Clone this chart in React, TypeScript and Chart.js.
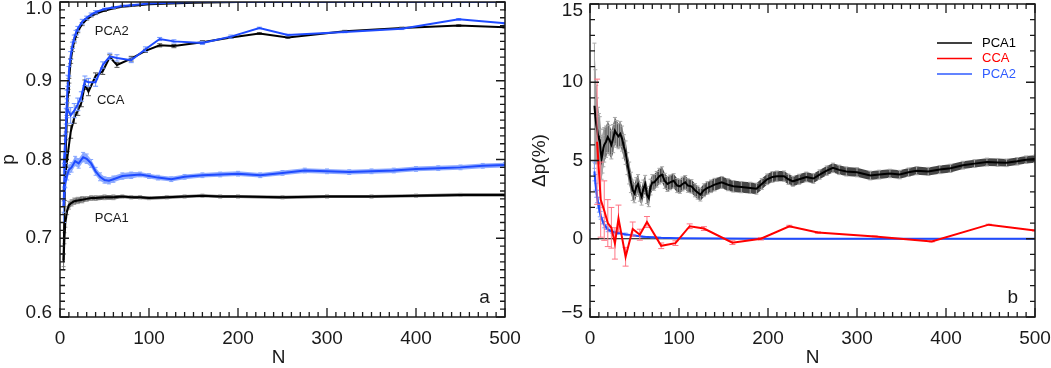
import React, { useEffect, useRef } from 'react';
import { Chart, registerables } from 'chart.js';

Chart.register(...registerables);

const FONT = "'Liberation Sans', Arial, Helvetica, sans-serif";
const TXT = '#1a1a1a';
const BLUE = '#1f4bff';
const RED = '#ff0000';

// ---------- Panel a : p versus N ----------
const pca2N = [4, 5, 6, 7, 8, 9, 10, 12, 14, 16, 18, 20, 25, 30, 35, 40, 50, 60, 70, 80, 100, 125, 150, 200, 300, 400, 500];
const pca2BlackV = [0.67, 0.74, 0.79, 0.83, 0.86, 0.885, 0.90, 0.925, 0.94, 0.95, 0.957, 0.963, 0.972, 0.978, 0.982, 0.985, 0.989, 0.992, 0.994, 0.995, 0.997, 0.998, 0.999, 1.0, 1.0, 1.0, 1.0];
const pca2BlackE = [0.01, 0.008, 0.006, 0.005, 0.004, 0.004, 0.003, 0.003, 0.003, 0.002, 0.002, 0.002, 0.002, 0.001, 0.001, 0.001, 0.001, 0.001, 0, 0, 0, 0, 0, 0, 0, 0, 0];
const pca2BlueV = [0.74, 0.78, 0.82, 0.855, 0.88, 0.90, 0.912, 0.932, 0.945, 0.954, 0.961, 0.966, 0.975, 0.98, 0.984, 0.987, 0.991, 0.993, 0.995, 0.996, 0.998, 0.999, 1.0, 1.0, 1.0, 1.0, 1.0];
const pca2BlueE = [0.02, 0.015, 0.012, 0.01, 0.008, 0.007, 0.006, 0.005, 0.004, 0.004, 0.003, 0.003, 0.003, 0.002, 0.002, 0.002, 0.001, 0.001, 0.001, 0.001, 0, 0, 0, 0, 0, 0, 0];

const ccaN = [4, 8, 12, 16, 20, 24, 28, 32, 40, 48, 56, 64, 80, 96, 112, 128, 160, 192, 224, 256, 320, 384, 448, 500];
const ccaBlackV = [0.76, 0.80, 0.835, 0.853, 0.862, 0.872, 0.895, 0.886, 0.906, 0.912, 0.930, 0.920, 0.928, 0.938, 0.945, 0.944, 0.949, 0.955, 0.960, 0.955, 0.963, 0.967, 0.970, 0.968];
const ccaBlackE = [0.01, 0.01, 0.008, 0.007, 0.006, 0.005, 0.006, 0.005, 0.004, 0.004, 0.003, 0.003, 0.003, 0.002, 0.002, 0.002, 0.002, 0.001, 0.001, 0.001, 0.001, 0.001, 0.001, 0.001];
const ccaBlueV = [0.79, 0.865, 0.856, 0.862, 0.870, 0.880, 0.900, 0.898, 0.898, 0.920, 0.931, 0.929, 0.926, 0.940, 0.953, 0.950, 0.948, 0.956, 0.967, 0.958, 0.962, 0.966, 0.978, 0.973];
const ccaBlueE = [0.01, 0.012, 0.01, 0.009, 0.008, 0.006, 0.006, 0.005, 0.005, 0.004, 0.004, 0.004, 0.003, 0.003, 0.002, 0.002, 0.002, 0.002, 0.001, 0.001, 0.001, 0.001, 0.001, 0.001];

const pca1BlackN = [4, 5, 6, 8, 10, 13, 16, 20, 25, 30, 35, 40, 50, 60, 70, 80, 90, 100, 120, 140, 160, 180, 200, 250, 300, 350, 400, 450, 500];
const pca1BlackV = [0.672, 0.70, 0.72, 0.735, 0.742, 0.745, 0.747, 0.748, 0.749, 0.75, 0.751, 0.751, 0.752, 0.752, 0.753, 0.752, 0.752, 0.751, 0.752, 0.753, 0.754, 0.753, 0.753, 0.752, 0.753, 0.753, 0.754, 0.755, 0.755];
const pca1BlackE = [0.008, 0.007, 0.006, 0.005, 0.005, 0.004, 0.004, 0.004, 0.004, 0.003, 0.003, 0.003, 0.003, 0.003, 0.002, 0.002, 0.002, 0.002, 0.002, 0.002, 0.002, 0.002, 0.002, 0.002, 0.002, 0.002, 0.002, 0.002, 0.002];

const pca1BlueN = [4, 6, 8, 10, 13, 17, 21, 26, 30, 35, 40, 45, 50, 55, 60, 70, 80, 90, 100, 110, 125, 140, 160, 180, 200, 225, 250, 275, 300, 325, 350, 375, 400, 425, 450, 475, 500];
const pca1BlueV = [0.74, 0.77, 0.78, 0.787, 0.79, 0.798, 0.795, 0.803, 0.801, 0.795, 0.785, 0.778, 0.774, 0.773, 0.775, 0.779, 0.780, 0.781, 0.779, 0.777, 0.775, 0.778, 0.780, 0.781, 0.782, 0.780, 0.783, 0.786, 0.785, 0.784, 0.785, 0.786, 0.788, 0.789, 0.790, 0.792, 0.793];
const pca1BlueE = [0.007, 0.006, 0.006, 0.006, 0.006, 0.006, 0.006, 0.006, 0.006, 0.005, 0.005, 0.005, 0.004, 0.004, 0.004, 0.004, 0.004, 0.003, 0.003, 0.003, 0.003, 0.003, 0.003, 0.003, 0.003, 0.003, 0.003, 0.003, 0.003, 0.003, 0.003, 0.003, 0.003, 0.003, 0.003, 0.003, 0.003];

// ---------- Panel b : delta p (%) versus N ----------
const dPca1N = [5, 6, 7, 8, 9, 10, 11, 12, 13, 14,
  15, 16, 18, 20, 22, 24, 26, 28, 30, 32,
  34, 36, 38, 40, 42, 44, 46, 48, 50, 52,
  54, 56, 58, 60, 62, 64, 66, 68, 70, 72,
  75, 78, 81, 84, 87, 90, 94, 98, 101, 104,
  107, 110, 114, 118, 121, 124, 128, 132, 136, 140,
  148, 155, 161, 170, 180, 187, 193, 199, 205, 210,
  218, 223, 228, 235, 243, 251, 258, 266, 273, 280,
  288, 300, 315, 325, 337, 348, 358, 367, 380, 393,
  405, 419, 432, 446, 458, 468, 480, 490, 500];
const dPca1V = [8.5, 7.8, 7.3, 7.0, 6.6, 6.4, 6.3, 5.6, 5.1, 5.4,
  5.8, 6.0, 6.2, 6.5, 6.3, 6.0, 6.4, 6.9, 6.7, 6.55,
  6.7, 6.4, 5.9, 5.5, 4.8, 4.2, 3.6, 3.1, 2.9, 3.3,
  3.5, 3.0, 2.7, 3.2, 3.5, 2.8, 2.6, 3.3, 3.6, 3.6,
  3.8, 4.0, 4.1, 3.7, 3.5, 3.6, 3.7, 3.4, 3.35, 3.5,
  3.6, 3.4, 3.35, 3.1, 2.95, 2.82, 3.1, 3.25, 3.35, 3.46,
  3.6, 3.45, 3.35, 3.3, 3.25, 3.2, 3.5, 3.8, 3.95, 4.0,
  4.0, 3.8, 3.67, 3.8, 3.95, 3.85, 4.1, 4.35, 4.53, 4.4,
  4.3, 4.25, 4.04, 4.1, 4.17, 4.1, 4.25, 4.35, 4.3, 4.42,
  4.5, 4.7, 4.8, 4.9, 4.88, 4.85, 4.95, 5.05, 5.1];
const dPca1E = [4.0, 3.0, 2.5, 2.0, 1.8, 1.6, 1.5, 1.4, 1.3, 1.2,
  1.2, 1.1, 1.0, 1.0, 0.95, 0.9, 0.9, 0.85, 0.85, 0.8,
  0.8, 0.8, 0.75, 0.75, 0.7, 0.7, 0.65, 0.65, 0.6, 0.6,
  0.6, 0.6, 0.55, 0.55, 0.55, 0.55, 0.55, 0.5, 0.5, 0.5,
  0.5, 0.5, 0.5, 0.48, 0.48, 0.47, 0.46, 0.45, 0.45, 0.44,
  0.44, 0.43, 0.43, 0.42, 0.42, 0.41, 0.41, 0.4, 0.4, 0.4,
  0.38, 0.38, 0.37, 0.36, 0.36, 0.35, 0.35, 0.34, 0.34, 0.33,
  0.33, 0.33, 0.32, 0.32, 0.31, 0.31, 0.3, 0.3, 0.3, 0.3,
  0.29, 0.29, 0.28, 0.28, 0.27, 0.27, 0.27, 0.26, 0.26, 0.26,
  0.26, 0.25, 0.25, 0.25, 0.25, 0.24, 0.24, 0.24, 0.24];

const dCcaN = [8, 12, 16, 20, 24, 28, 32, 40, 48, 56, 64, 80, 96, 112, 128, 160, 192, 224, 256, 320, 384, 448, 500];
const dCcaV = [6.2, 2.5, 1.8, 1.0, 0.7, -0.3, 1.3, -1.15, 0.62, 0.26, 1.07, -0.45, -0.28, 0.8, 0.65, -0.25, 0.0, 0.8, 0.4, 0.15, -0.17, 0.9, 0.53];
const dCcaE = [4.0, 2.4, 1.9, 1.5, 1.3, 1.0, 0.85, 0.6, 0.45, 0.35, 0.35, 0.18, 0.15, 0.15, 0.12, 0.12, 0.08, 0.06, 0.05, 0.03, 0.03, 0.03, 0.03];

const dPca2N = [5, 6, 7, 8, 9, 10, 11, 12, 14, 16, 18, 20, 25, 30, 40, 50, 60, 70, 80, 100, 150, 200, 300, 400, 500];
const dPca2V = [4.3, 3.6, 3.1, 2.7, 2.3, 2.0, 1.7, 1.5, 1.15, 0.9, 0.75, 0.6, 0.45, 0.38, 0.28, 0.2, 0.13, 0.09, 0.06, 0.03, 0.01, 0.0, 0.0, 0.0, 0.0];
const dPca2E = [0.6, 0.5, 0.45, 0.4, 0.35, 0.3, 0.3, 0.25, 0.2, 0.2, 0.15, 0.15, 0.1, 0.1, 0.08, 0.05, 0.04, 0.03, 0.02, 0.01, 0, 0, 0, 0, 0];

const zeroN = [0, 500];
const zeroV = [0, 0];

const xTicks = { min: 0, max: 500, step: 100, minor: 10 };
const aTicks = { min: 0.6, max: 1.0, step: 0.1, minor: 0.01 };
const bTicks = { min: -5, max: 15, step: 5, minor: 1 };

const legendLabels = ['PCA1', 'CCA', 'PCA2'];
const legendColors = ['#000000', RED, '#2f5bff'];

function pts(xs: number[], ys: number[]) {
  return xs.map((x, i) => ({ x, y: ys[i] }));
}

const errorBarPlugin = {
  id: 'errorBars',
  beforeDatasetDraw(chart: any, args: any) {
    const ds = chart.data.datasets[args.index];
    if (!ds.errors) return;
    const meta = args.meta;
    const ys = chart.scales.y;
    const ctx = chart.ctx;
    const a = chart.chartArea;
    ctx.save();
    ctx.beginPath();
    ctx.rect(a.left, a.top, a.right - a.left, a.bottom - a.top);
    ctx.clip();
    const els = meta.data;
    if (ds.errorFill) {
      ctx.beginPath();
      els.forEach((el: any, i: number) => {
        const y = ys.getPixelForValue(ds.data[i].y + ds.errors[i]);
        if (i === 0) ctx.moveTo(el.x, y); else ctx.lineTo(el.x, y);
      });
      for (let i = els.length - 1; i >= 0; i--) {
        ctx.lineTo(els[i].x, ys.getPixelForValue(ds.data[i].y - ds.errors[i]));
      }
      ctx.closePath();
      ctx.fillStyle = ds.errorFill;
      ctx.fill();
    }
    ctx.strokeStyle = ds.errorColor;
    ctx.lineWidth = 1;
    const cap = ds.capHalf || 2.5;
    ctx.beginPath();
    els.forEach((el: any, i: number) => {
      const e = ds.errors[i];
      if (!e) return;
      const v = ds.data[i].y;
      const y1 = ys.getPixelForValue(v + e);
      const y2 = ys.getPixelForValue(v - e);
      const x = el.x;
      ctx.moveTo(x, y1); ctx.lineTo(x, y2);
      ctx.moveTo(x - cap, y1); ctx.lineTo(x + cap, y1);
      ctx.moveTo(x - cap, y2); ctx.lineTo(x + cap, y2);
    });
    ctx.stroke();
    ctx.restore();
  },
};

function makeFrame(xcfg: any, ycfg: any) {
  return {
    id: 'frameTicks',
    afterDraw(chart: any) {
      const ctx = chart.ctx;
      const a = chart.chartArea;
      const xs = chart.scales.x;
      const ys = chart.scales.y;
      ctx.save();
      ctx.strokeStyle = '#1a1a1a';
      ctx.lineWidth = 1.3;
      const nx = Math.round((xcfg.max - xcfg.min) / xcfg.minor);
      const xEvery = Math.round(xcfg.step / xcfg.minor);
      for (let i = 0; i <= nx; i++) {
        const v = xcfg.min + i * xcfg.minor;
        const px = xs.getPixelForValue(v);
        const len = i % xEvery === 0 ? 9 : 5;
        ctx.beginPath();
        ctx.moveTo(px, a.bottom);
        ctx.lineTo(px, a.bottom - len);
        ctx.moveTo(px, a.top);
        ctx.lineTo(px, a.top + len);
        ctx.stroke();
      }
      const ny = Math.round((ycfg.max - ycfg.min) / ycfg.minor);
      const yEvery = Math.round(ycfg.step / ycfg.minor);
      for (let i = 0; i <= ny; i++) {
        const v = ycfg.min + i * ycfg.minor;
        const py = ys.getPixelForValue(v);
        const len = i % yEvery === 0 ? 9 : 5;
        ctx.beginPath();
        ctx.moveTo(a.left, py);
        ctx.lineTo(a.left + len, py);
        ctx.moveTo(a.right, py);
        ctx.lineTo(a.right - len, py);
        ctx.stroke();
      }
      ctx.lineWidth = 1.5;
      ctx.strokeRect(a.left, a.top, a.right - a.left, a.bottom - a.top);
      ctx.restore();
    },
  };
}

function makeTexts(o: any) {
  return {
    id: 'panelTexts',
    afterDraw(chart: any) {
      const { ctx, chartArea: a, scales } = chart;
      const xs = scales.x, ys = scales.y;
      ctx.save();
      ctx.fillStyle = TXT;
      ctx.font = `19px ${FONT}`;
      ctx.textAlign = 'center';
      ctx.textBaseline = 'middle';
      ctx.fillText(o.xTitle, (a.left + a.right) / 2 + o.xTitleShift, chart.height - 10);
      ctx.save();
      ctx.translate(o.yTitleX, (a.top + a.bottom) / 2);
      ctx.rotate(-Math.PI / 2);
      ctx.fillText(o.yTitle, 0, 0);
      ctx.restore();
      (o.notes || []).forEach((n: any) => {
        ctx.font = `${n.size}px ${FONT}`;
        ctx.fillStyle = n.color || TXT;
        ctx.textAlign = n.align || 'left';
        ctx.textBaseline = 'middle';
        ctx.fillText(n.text, xs.getPixelForValue(n.x), ys.getPixelForValue(n.y));
      });
      if (o.legend) {
        const lg = o.legend;
        lg.labels.forEach((lab: string, i: number) => {
          const y = a.top + lg.top + i * lg.gap;
          ctx.strokeStyle = lg.colors[i];
          ctx.lineWidth = 1.5;
          ctx.beginPath();
          ctx.moveTo(a.right - lg.lineStart, y);
          ctx.lineTo(a.right - lg.lineEnd, y);
          ctx.stroke();
          ctx.fillStyle = lg.colors[i];
          ctx.font = `13px ${FONT}`;
          ctx.textAlign = 'left';
          ctx.textBaseline = 'middle';
          ctx.fillText(lab, a.right - lg.textX, y);
        });
      }
      ctx.restore();
    },
  };
}

function lineDs(xs: number[], ys: number[], es: number[] | null, color: string, errColor: string, errFill: string | null, extra: any = {}) {
  return {
    data: pts(xs, ys),
    borderColor: color,
    borderWidth: 2,
    pointRadius: 0,
    tension: 0,
    fill: false,
    errors: es,
    errorColor: errColor,
    errorFill: errFill,
    ...extra,
  };
}

function axisOpts(cfg: any, pad: number, fmt: (v: number) => string, fitSize: number, horizontal: boolean) {
  return {
    type: 'linear',
    min: cfg.min,
    max: cfg.max,
    ticks: {
      stepSize: cfg.step,
      padding: pad,
      color: TXT,
      font: { family: FONT, size: 19 },
      maxRotation: 0,
      callback: (v: any) => fmt(Number(v)),
    },
    grid: { display: false, drawTicks: false },
    border: { display: false },
    afterFit: (s: any) => {
      if (horizontal) s.height = fitSize; else s.width = fitSize;
      s.paddingTop = 0;
      s.paddingBottom = 0;
      s.paddingLeft = 0;
      s.paddingRight = 0;
    },
    afterUpdate: (s: any) => {
      if (horizontal || s.__kept) return;
      s.__kept = true;
      // keep the end labels inside the frame, as in the reference
      const orig = s._computeLabelItems.bind(s);
      s._computeLabelItems = (ca: any) => {
        const items = orig(ca);
        items.forEach((it: any) => {
          const t = it.options && it.options.translation;
          if (!t) return;
          if (t[1] < s.top + 7) t[1] = s.top + 7;
          if (t[1] > s.bottom - 4) t[1] = s.bottom - 4;
        });
        return items;
      };
    },
  };
}

const fmtInt = (v: number) => (v < 0 ? '\u2212' + Math.abs(Math.round(v)) : String(Math.round(v)));

export default function App() {
  const leftRef = useRef<HTMLCanvasElement>(null);
  const rightRef = useRef<HTMLCanvasElement>(null);

  useEffect(() => {
    const left = new Chart(leftRef.current as HTMLCanvasElement, {
      type: 'line',
      data: {
        datasets: [
          lineDs(pca2N, pca2BlueV, pca2BlueE, BLUE, '#6f95ff', null) as any,
          lineDs(ccaN, ccaBlueV, ccaBlueE, BLUE, '#6f95ff', null) as any,
          lineDs(pca1BlueN, pca1BlueV, pca1BlueE, BLUE, '#86a6ff', 'rgba(70,115,255,0.6)', { capHalf: 2 }) as any,
          lineDs(pca2N, pca2BlackV, pca2BlackE, '#000', '#777', null) as any,
          lineDs(ccaN, ccaBlackV, ccaBlackE, '#000', '#555', null) as any,
          lineDs(pca1BlackN, pca1BlackV, pca1BlackE, '#000', '#999', 'rgba(60,60,60,0.75)', { capHalf: 2 }) as any,
        ],
      },
      options: {
        animation: false,
        responsive: false,
        events: [],
        layout: { padding: { top: 2, right: 20, left: 0, bottom: 0 } },
        scales: {
          x: axisOpts(xTicks, 10, fmtInt, 51, true) as any,
          y: axisOpts(aTicks, 8, (v) => v.toFixed(1), 60, false) as any,
        },
        plugins: { legend: { display: false }, tooltip: { enabled: false } },
      },
      plugins: [
        errorBarPlugin,
        makeFrame(xTicks, aTicks),
        makeTexts({
          xTitle: 'N',
          xTitleShift: -4,
          yTitle: 'p',
          yTitleX: 9,
          notes: [
            { text: 'PCA2', x: 39, y: 0.963, size: 13 },
            { text: 'CCA', x: 41.5, y: 0.875, size: 13 },
            { text: 'PCA1', x: 39, y: 0.725, size: 13 },
            { text: 'a', x: 477, y: 0.624, size: 19, align: 'center' },
          ],
        }),
      ],
    });

    const right = new Chart(rightRef.current as HTMLCanvasElement, {
      type: 'line',
      data: {
        datasets: [
          lineDs(dCcaN, dCcaV, dCcaE, RED, '#ff7585', null, { capHalf: 3 }) as any,
          lineDs(dPca2N, dPca2V, dPca2E, BLUE, '#7fa0ff', 'rgba(110,150,255,0.5)', { capHalf: 2 }) as any,
          lineDs(dPca1N, dPca1V, dPca1E, '#000', '#aaa', 'rgba(45,45,45,0.88)', { capHalf: 2 }) as any,
          lineDs(zeroN, zeroV, null, '#000', '#000', null, { borderWidth: 1 }) as any,
        ],
      },
      options: {
        animation: false,
        responsive: false,
        events: [],
        layout: { padding: { top: 4, right: 16, left: 0, bottom: 0 } },
        scales: {
          x: axisOpts(xTicks, 10, fmtInt, 51, true) as any,
          y: axisOpts(bTicks, 7, fmtInt, 65, false) as any,
        },
        plugins: { legend: { display: false }, tooltip: { enabled: false } },
      },
      plugins: [
        errorBarPlugin,
        makeFrame(xTicks, bTicks),
        makeTexts({
          xTitle: 'N',
          xTitleShift: 0,
          yTitle: '\u0394p(%)',
          yTitleX: 15,
          notes: [{ text: 'b', x: 475, y: -3.78, size: 19, align: 'center' }],
          legend: {
            labels: legendLabels,
            colors: legendColors,
            top: 39,
            gap: 15.5,
            lineStart: 98,
            lineEnd: 63,
            textX: 53,
          },
        }),
      ],
    });

    return () => {
      left.destroy();
      right.destroy();
    };
  }, []);

  return (
    <div style={{ position: 'absolute', left: 0, top: 0, width: 1051, height: 368, background: '#fff' }}>
      <canvas ref={leftRef} width={525} height={368} style={{ position: 'absolute', left: 0, top: 0, width: 525, height: 368 }} />
      <canvas ref={rightRef} width={526} height={368} style={{ position: 'absolute', left: 525, top: 0, width: 526, height: 368 }} />
    </div>
  );
}
